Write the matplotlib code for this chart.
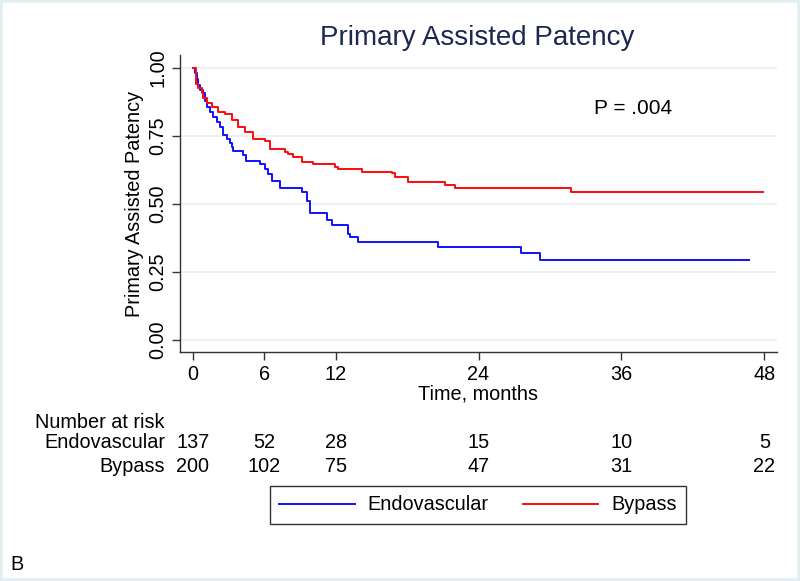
import matplotlib
matplotlib.use("Agg")
import matplotlib.pyplot as plt
from matplotlib.transforms import blended_transform_factory
from matplotlib.patches import Rectangle

plt.rcParams['font.family'] = ['Liberation Sans', 'DejaVu Sans']

# Kaplan-Meier step data (time in months, survival)
blue_t = [0, 0.2, 0.33, 0.47, 0.6, 0.84, 1.03, 1.18, 1.45, 1.73, 2.0, 2.3, 2.57, 2.85,
          3.13, 3.27, 3.4, 4.25, 4.5, 5.65, 6.07, 6.35, 6.63, 7.33, 9.2, 9.6, 9.85,
          11.25, 11.67, 13.06, 13.2, 13.9, 20.6, 27.6, 29.2, 46.7]
blue_s = [1.0, 0.98, 0.96, 0.937, 0.92, 0.907, 0.88, 0.858, 0.84, 0.82, 0.80, 0.784, 0.754, 0.74,
          0.723, 0.71, 0.695, 0.68, 0.66, 0.646, 0.63, 0.61, 0.585, 0.559, 0.546, 0.51, 0.468,
          0.44, 0.423, 0.39, 0.378, 0.362, 0.343, 0.32, 0.293, 0.293]

red_t = [0, 0.28, 0.47, 0.75, 0.9, 1.2, 1.6, 2.15, 2.7, 3.3, 3.8, 4.4, 5.1, 6.1, 6.5,
         7.75, 8.0, 8.45, 9.15, 10.1, 11.95, 12.2, 14.2, 16.7, 17.0, 18.1, 21.2, 22.0, 31.8, 47.9]
red_s = [1.0, 0.94, 0.925, 0.907, 0.89, 0.87, 0.858, 0.84, 0.83, 0.81, 0.785, 0.766, 0.74, 0.73, 0.703,
         0.692, 0.683, 0.672, 0.656, 0.647, 0.637, 0.628, 0.619, 0.613, 0.60, 0.582, 0.57, 0.56, 0.546, 0.546]

risk_times = [0, 6, 12, 24, 36, 48]
risk_endo = [137, 52, 28, 15, 10, 5]
risk_bypass = [200, 102, 75, 47, 31, 22]

y_ticks = [0.0, 0.25, 0.5, 0.75, 1.0]
y_ticklabels = ["0.00", "0.25", "0.50", "0.75", "1.00"]

FS = 14.3
W, H = 800, 581
fig = plt.figure(figsize=(8, 5.81), dpi=100)
fig.patch.set_facecolor('white')
fig.patches.append(Rectangle((0, 0), 1, 1, transform=fig.transFigure, fill=False,
                             edgecolor='#e4eef0', linewidth=4, zorder=-1))

left, right, top, bottom = 180, 777, 55, 352
ax = fig.add_axes([left / W, 1 - bottom / H, (right - left) / W, (bottom - top) / H])

ax.step(blue_t, blue_s, where='post', color='#1010ff', lw=1.4, label='Endovascular')
ax.step(red_t, red_s, where='post', color='#ff0a0a', lw=1.4, label='Bypass')

ax.set_xlim(-1.07, 49.06)
ax.set_ylim(-0.044, 1.048)
ax.set_xticks(risk_times)
ax.set_yticks(y_ticks)
ax.set_yticklabels(y_ticklabels, rotation=90, va='center')
for s in ['top', 'right']:
    ax.spines[s].set_visible(False)
for s in ['left', 'bottom']:
    ax.spines[s].set_color('#333333')
    ax.spines[s].set_linewidth(1.0)
ax.tick_params(axis='both', labelsize=FS, length=6, width=1.0, color='#333333', pad=3)
ax.yaxis.grid(True, color='#e6f0f0', lw=1.2)
ax.set_axisbelow(True)

ax.set_xlabel('Time, months', fontsize=FS, labelpad=1)
ax.set_ylabel('Primary Assisted Patency', fontsize=FS, labelpad=3)

fig.text(477 / W, 1 - 38 / H, 'Primary Assisted Patency', ha='center', va='center',
         fontsize=20, color='#1c2852')
ax.text(37.0, 0.853, 'P = .004', ha='center', va='center', fontsize=15)

# Number at risk table
tr = blended_transform_factory(ax.transData, fig.transFigure)
fig.text(35 / W, 1 - 423 / H, 'Number at risk', ha='left', va='center', fontsize=FS)
fig.text(165 / W, 1 - 443 / H, 'Endovascular', ha='right', va='center', fontsize=FS)
fig.text(165 / W, 1 - 466 / H, 'Bypass', ha='right', va='center', fontsize=FS)
for t, e, b in zip(risk_times, risk_endo, risk_bypass):
    ax.text(t, 1 - 443 / H, str(e), transform=tr, ha='center', va='center', fontsize=FS)
    ax.text(t, 1 - 466 / H, str(b), transform=tr, ha='center', va='center', fontsize=FS)

leg = fig.legend(loc='center', bbox_to_anchor=(478 / W, 1 - 505 / H), ncol=2, fontsize=FS,
                 frameon=True, fancybox=False, edgecolor='black', handlelength=3.8,
                 handletextpad=0.65, columnspacing=1.7, borderpad=0.5, borderaxespad=0)
leg.get_frame().set_linewidth(1.0)

fig.text(10 / W, 1 - 565 / H, 'B', ha='left', va='center', fontsize=FS)

fig.savefig('out.png', dpi=100)
